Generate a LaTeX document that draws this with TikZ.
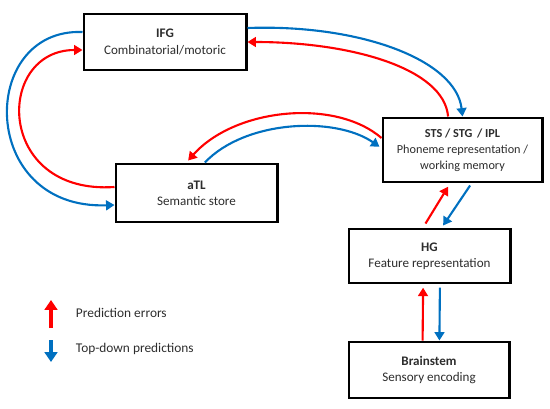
\documentclass[tikz,border=0pt]{standalone}
\usetikzlibrary{arrows.meta}
\usepackage{fontspec}
\setmainfont{Carlito}
\definecolor{errred}{RGB}{255,0,0}
\definecolor{predblue}{RGB}{0,112,192}
\definecolor{txtgray}{RGB}{45,45,45}

\begin{document}
\begin{tikzpicture}[x=0.025cm,y=-0.025cm,>={Triangle[length=6pt,width=7pt]},
  area/.style={draw,line width=2.1pt,fill=white,align=center,inner sep=1pt,
    text=txtgray,font=\fontsize{9.3}{11.5}\selectfont},
  err/.style={->,draw=errred,line width=1.5pt},
  pred/.style={->,draw=predblue,line width=1.5pt}]
\useasboundingbox (0,0) rectangle (550,408);
% Areale
\node[area,minimum width=4.05cm,minimum height=1.4cm] (ifg) at (165,42) {\textbf{IFG}\\Combinatorial/motoric};
\node[area,minimum width=3.975cm,minimum height=1.6cm,font=\fontsize{8.7}{11.5}\selectfont] (sts) at (462.5,150) {\textbf{STS / STG\, / IPL}\\Phoneme representation /\\working memory};
\node[area,minimum width=4.025cm,minimum height=1.45cm] (atl) at (196.5,193) {\textbf{aTL}\\Semantic store};
\node[area,minimum width=4.025cm,minimum height=1.35cm] (hg) at (429.5,256) {\textbf{HG}\\Feature representation};
\node[area,minimum width=4.0cm,minimum height=1.4cm] (bs) at (429,370) {\textbf{Brainstem}\\Sensory encoding};
% IFG <-> STS
\draw[pred] ([yshift=0.35cm]ifg.east) .. controls (360,24) and (456,60) .. (sts.north);
\draw[err] ([xshift=-0.36cm]sts.north) .. controls (444,68) and (350,42) .. (ifg.east);
% aTL <-> STS
\draw[err] ([yshift=0.3cm]sts.west) .. controls (335,98) and (235,108) .. ([xshift=-0.21cm,yshift=0.05cm]atl.north);
\draw[pred] ([xshift=0.21cm]atl.north) .. controls (245,120) and (335,116) .. ([xshift=-0.05cm,yshift=0.08cm]sts.west);
% aTL <-> IFG
\draw[err] ([yshift=0.15cm]atl.west) .. controls (-5,195) and (-5,50) .. ([yshift=-0.2cm]ifg.west);
\draw[pred] ([yshift=0.25cm]ifg.west) .. controls (-22,28) and (-22,210) .. ([yshift=-0.3cm]atl.west);
% HG <-> STS
\draw[err] ([xshift=-0.1cm,yshift=0.1cm]hg.north) -- ([xshift=-0.36cm,yshift=-0.08cm]sts.south);
\draw[pred] ([xshift=0.19cm,yshift=-0.05cm]sts.south) -- ([xshift=0.34cm,yshift=0.05cm]hg.north);
% Brainstem <-> HG
\draw[err] ([xshift=-0.16cm]bs.north) -- ([xshift=-0.16cm,yshift=-0.08cm]hg.south);
\draw[pred] ([xshift=0.26cm,yshift=-0.08cm]hg.south) -- ([xshift=0.26cm]bs.north);
% Legende
\node[anchor=west,text=txtgray,font=\fontsize{9.5}{10}\selectfont] (lerr) at (71,313) {Prediction errors};
\node[anchor=west,text=txtgray,font=\fontsize{9.5}{10}\selectfont] (lpred) at (71,349) {Top-down predictions};
\coordinate (e1) at (51,328); \coordinate (e2) at (51,300);
\coordinate (p1) at (51,340); \coordinate (p2) at (51,362);
\draw[err,line width=2.2pt,-{Triangle[length=7pt,width=9pt]}] (e1) -- (e2);
\draw[pred,line width=2.2pt,-{Triangle[length=7pt,width=9pt]}] (p1) -- (p2);
\end{tikzpicture}
\end{document}
